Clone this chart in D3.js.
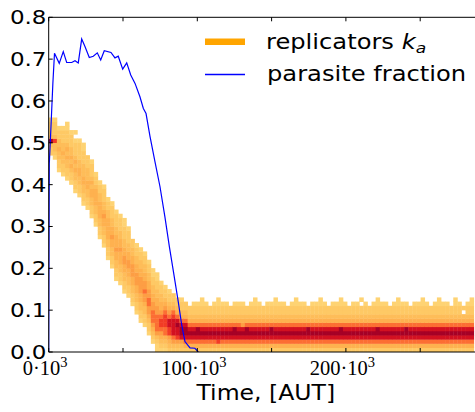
<!DOCTYPE html>
<html><head><meta charset="utf-8">
<script src="https://cdn.jsdelivr.net/npm/d3@7"></script>
<style>body{margin:0;background:#fff} svg{display:block}</style>
</head><body>
<svg id="c" width="475" height="412"></svg>
<script>
// ---------------- data ----------------
const timeTicks = [0, 50, 100, 150, 200, 250, 300];          // in 10^3 AUT
const timeTickLabels = ["0", "", "100", "", "200", "", ""];
const fracTicks = [0.0, 0.1, 0.2, 0.3, 0.4, 0.5, 0.6, 0.7, 0.8];
const fracTickLabels = ["0.0", "0.1", "0.2", "0.3", "0.4", "0.5", "0.6", "0.7", "0.8"];

const parasiteTime = [0, 0.4, 1.3, 2.8, 3.9, 7.1, 9.8, 12.1, 15.5, 17.7, 19.9, 22.2, 24.4, 27.3, 30.0, 32.7, 35.0, 37.4, 41.9, 44.6, 46.8, 49.8, 52.5, 55.2, 58.1, 61.4, 63.7, 65.5, 68.2, 71.5, 74.9, 78.2, 81.2, 83.8, 87.2, 89.5, 91.7, 95.1, 98.4, 100.7];
const parasiteFrac = [0, 0.45, 0.52, 0.642, 0.714, 0.690, 0.718, 0.692, 0.692, 0.696, 0.691, 0.748, 0.730, 0.704, 0.707, 0.715, 0.698, 0.720, 0.716, 0.703, 0.707, 0.676, 0.691, 0.662, 0.642, 0.610, 0.582, 0.570, 0.515, 0.455, 0.395, 0.323, 0.252, 0.195, 0.120, 0.065, 0.025, 0.010, 0.009, 0.0];

// 2D histogram of replicator k_a: one column per time bin,
// first k_a bin of the column and occupancy level (0 = empty, 1..9) per k_a bin upward
const histTimeBin = 2.75;   // 10^3 AUT
const histKaBin = 0.01;
const histColStart = [47, 46, 43, 42, 41, 40, 38, 37, 35, 34, 32, 30, 27, 25, 22, 20, 17, 16, 14, 13, 11, 9, 7, 6, 4, 2,
  0, 0, 0, 0, 0, 0, 0, 0,
  0, 0, 0, 0, 0, 0, 0, 0, 0, 0, 0, 0, 0, 0, 0, 0, 0, 0, 0, 0, 0, 0, 0, 0, 0, 0, 0, 0, 0, 0, 0, 0, 0, 0, 0, 0, 0, 0, 0,
  0, 0, 0, 0, 0, 0, 0, 0, 0, 0, 0, 0, 0, 0, 0, 0, 0, 0, 0, 0, 0, 0, 0, 0, 0, 0, 0, 0, 0, 0, 0];
const histColLevels = [
  "223932221", "1233732221", "12233433221", "122334332221", "12233434322211", "1223434332221",
  "122334343222101", "12233443322221", "122334433322211", "1223344333222", "12233443432221",
  "1223344443221", "12233444433221", "122334454332221", "122334444433221", "1223344544332221",
  "12233445444332221", "12233444544332221", "122334455443322211", "12233445544332221",
  "1223344555443322", "12233445554433221", "122334455554433221", "122334556554433221",
  "122345566554433221", "123456665544332211",
  "1123566665544332211", "12345677654433221", "1234667776543221", "234577886543221",
  "23568888764322", "2357889864322", "2358998643221", "246899864322",
  "24689864322", "246898643221", "246899643221", "2468986432211", "246898643221", "24689864322",
  "246898643221", "2478986432211", "246898643221", "246898643221", "24689864322", "246899643221",
  "246898643221", "246898543221", "24689964322", "246898643221", "2468986432211", "246898643221",
  "24689864322", "246898643221", "246899643221", "2468986432211", "246898643221", "246898643221",
  "24689864322", "246898643221", "2468986432211", "246898643221", "246898643221", "24689964322",
  "246898643221", "246898643221", "2468986432211", "246898643221", "24689864322", "246898643221",
  "246898643221", "2468996432211", "246898643221", "24689864322", "246898643221", "246898643221",
  "2468986432201", "246898643221", "24689864322", "246898643221", "2468996432211", "246898643221",
  "246898643221", "24689864322", "246898643221", "2468986432211", "246898643221", "246899643221",
  "24689864322", "246898643221", "246898643221", "2468986432211", "246898643221", "24689864322",
  "246898643221", "2468986432211", "246898643221", "246898643221", "24689864322", "2468986432211",
  "246898643221", "24689864302", "246898643221", "2468986432211", "246898643221"
];
const legendLabels = ["replicators ", "parasite fraction"];
const xTitle = "Time, [AUT]";

// ---------------- drawing ----------------
const svg = d3.select("#c");
const L = 48.7, T = 17.3, B = 352;
const x = d3.scaleLinear().domain([0, 300]).range([L, L + 6 * 74.3]);
const y = d3.scaleLinear().domain([0, 0.8]).range([B, T]);
const levelT = [0, 0.26, 0.30, 0.34, 0.38, 0.44, 0.56, 0.67, 0.80, 0.92];
const SANS = "DejaVu Sans, Bitstream Vera Sans, sans-serif";
const SX = 1.15;

svg.append("defs").append("clipPath").attr("id", "pa")
  .append("rect").attr("x", L).attr("y", T).attr("width", 500).attr("height", B - T);

// heatmap
const cells = [];
histColLevels.forEach((s, i) => {
  for (let j = 0; j < s.length; j++) {
    const lv = +s[j];
    if (lv > 0) cells.push({ i, bin: histColStart[i] + j, lv });
  }
});
svg.append("g").attr("clip-path", "url(#pa)").selectAll("rect").data(cells).join("rect")
  .attr("x", d => x(d.i * histTimeBin))
  .attr("width", d => x((d.i + 1) * histTimeBin) - x(d.i * histTimeBin) + 0.4)
  .attr("y", d => y((d.bin + 1) * histKaBin) - 0.2)
  .attr("height", d => y(d.bin * histKaBin) - y((d.bin + 1) * histKaBin) + 0.4)
  .attr("fill", d => d3.interpolateYlOrRd(levelT[d.lv]));

// parasite line
svg.append("path").attr("clip-path", "url(#pa)")
  .datum(parasiteTime.map((t, k) => [t, parasiteFrac[k]]))
  .attr("fill", "none").attr("stroke", "#0000ff").attr("stroke-width", 1.2)
  .attr("d", d3.line().x(d => x(d[0])).y(d => y(d[1])));

// spines
const ax = svg.append("g").attr("stroke", "#000").attr("stroke-width", 1).attr("fill", "none");
ax.append("line").attr("x1", L).attr("x2", 480).attr("y1", T).attr("y2", T);
ax.append("line").attr("x1", L).attr("x2", 480).attr("y1", B).attr("y2", B);
ax.append("line").attr("x1", L).attr("x2", L).attr("y1", T).attr("y2", B);
// ticks (inward)
timeTicks.forEach(t => {
  ax.append("line").attr("x1", x(t)).attr("x2", x(t)).attr("y1", B).attr("y2", B - 4);
  ax.append("line").attr("x1", x(t)).attr("x2", x(t)).attr("y1", T).attr("y2", T + 4);
});
fracTicks.forEach(v => {
  ax.append("line").attr("x1", L).attr("x2", L + 4).attr("y1", y(v)).attr("y2", y(v));
});

// y tick labels
fracTicks.forEach((v, k) => {
  svg.append("text").attr("transform", `translate(46.5,${y(v) + 7}) scale(${SX},1)`)
    .attr("text-anchor", "end").attr("font-family", SANS).attr("font-size", 20)
    .attr("fill", "#000").text(fracTickLabels[k]);
});
// x tick labels
timeTicks.forEach((t, k) => {
  if (!timeTickLabels[k]) return;
  const tx = svg.append("text").attr("x", x(t) - 3.5).attr("y", 375)
    .attr("text-anchor", "middle").attr("font-family", "Liberation Serif, Times New Roman, serif")
    .attr("font-size", 20.5).attr("fill", "#000");
  tx.append("tspan").text(timeTickLabels[k] + "\u00b710");
  tx.append("tspan").attr("font-size", 14.5).attr("dy", -8).text("3");
});
// x title
svg.append("text").attr("transform", `translate(265.8,400) scale(${SX},1)`)
  .attr("text-anchor", "middle").attr("font-family", SANS).attr("font-size", 20.5)
  .attr("fill", "#000").text(xTitle);

// legend
svg.append("line").attr("x1", 205).attr("x2", 245).attr("y1", 41.7).attr("y2", 41.7)
  .attr("stroke", "#ffa500").attr("stroke-width", 6.5);
svg.append("line").attr("x1", 205).attr("x2", 245).attr("y1", 74.5).attr("y2", 74.5)
  .attr("stroke", "#0000ff").attr("stroke-width", 1.4);
const l1 = svg.append("text").attr("transform", `translate(266,49) scale(1.18,1)`)
  .attr("font-family", SANS).attr("font-size", 20.5).attr("fill", "#000");
l1.append("tspan").text(legendLabels[0]);
l1.append("tspan").attr("font-style", "italic").text("k");
l1.append("tspan").attr("font-style", "italic").attr("font-size", 14.5).attr("dy", 4).text("a");
svg.append("text").attr("transform", `translate(267,81) scale(1.18,1)`)
  .attr("font-family", SANS).attr("font-size", 20.5).attr("fill", "#000").text(legendLabels[1]);
</script>
</body></html>
